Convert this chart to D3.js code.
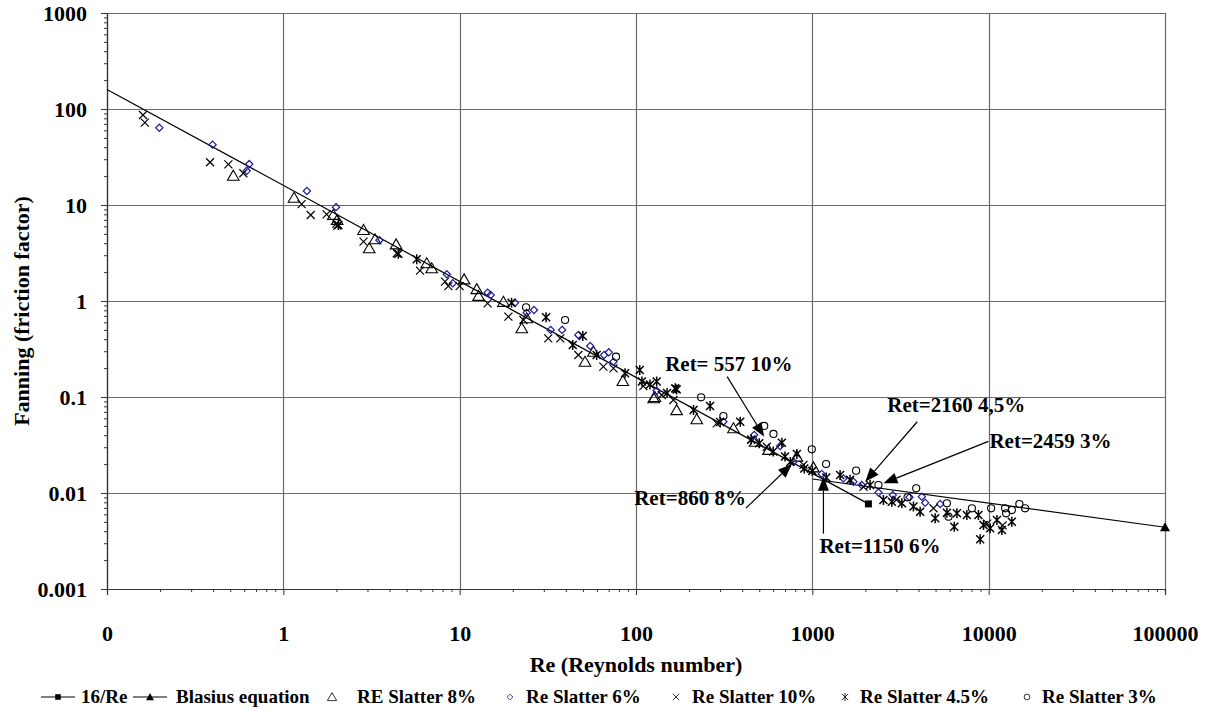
<!DOCTYPE html>
<html lang="en">
<head>
<meta charset="UTF-8">
<title>Fanning friction factor vs Reynolds number</title>
<script src="https://d3js.org/d3.v7.min.js"></script>
<style>
  body, html {
    margin: 0;
    background: #fff;
  }
  svg text {
    font-family: "Liberation Serif", "Times New Roman", serif;
    font-weight: bold;
    fill: #000;
  }
</style>
</head>
<body>
<svg id="chart" width="1214" height="712"></svg>
<script>
// ---- data ----
const xTickValues = [0.1, 1, 10, 100, 1000, 10000, 100000];
const xTickLabels = ["0", "1", "10", "100", "1000", "10000", "100000"];
const yTickValues = [0.001, 0.01, 0.1, 1, 10, 100, 1000];
const yTickLabels = ["0.001", "0.01", "0.1", "1", "10", "100", "1000"];

// 16/Re line (Re, f)
const laminarRe = [0.1, 2080];
const laminarF = [160, 0.0077];
// Blasius equation line
const blasiusRe = [1000, 100000];
const blasiusF = [0.0140, 0.0044];

// RE Slatter 8%  [Re, f]
const slatter8 = [[0.52,20.2],[1.15,11.9],[1.92,7.9],[2.02,7.0],[2.85,5.5],[3.07,3.54],[3.31,4.4],[4.36,3.89],
  [6.5,2.47],[6.94,2.19],[10.6,1.68],[12.5,1.33],[12.8,1.13],[17.7,0.98],[22.5,0.52],[24,0.66],[51.4,0.233],
  [57.4,0.296],[84.2,0.147],[126,0.097],[128,0.1],[170,0.073],[221,0.0586],[357,0.0472],[474,0.0342],
  [564,0.0281],[817,0.0239],[1014,0.0185]];
// Re Slatter 6%
const slatter6 = [[0.198,63.8],[0.397,42.5],[0.62,22.7],[0.641,26.7],[1.36,14.0],[1.99,9.5],[3.51,4.3],
  [8.45,1.9],[9.14,1.53],[14.4,1.22],[15.0,1.155],[20.6,0.96],[24,0.755],[26.4,0.806],[32.8,0.5],[38.1,0.5],
  [47.1,0.443],[55,0.34],[65.9,0.274],[70.1,0.292],[74.5,0.233],[131,0.116],[313,0.0553],[468,0.0402],
  [657,0.0309],[782,0.0212],[1131,0.0158],[1500,0.0142],[1710,0.0131],[1908,0.0121],[2371,0.0101],
  [2860,0.00953],[3555,0.00902],[4178,0.00916],[4365,0.00792],[5310,0.00768]];
// Re Slatter 10%
const slatter10 = [[0.16,86.6],[0.164,72],[0.384,27.9],[0.488,26.5],[0.593,21.4],[1.27,10.2],[1.43,7.87],
  [1.76,8.0],[2.0,6.4],[2.02,6.1],[2.85,4.15],[4.4,3.14],[5.96,2.07],[8.26,1.59],[8.63,1.43],[10.0,1.43],
  [14.4,0.946],[18.9,0.687],[23,0.634],[31.8,0.408],[37.2,0.408],[47.1,0.274],[65.3,0.207],[74.5,0.199],
  [110,0.13],[140,0.105],[163,0.093],[287,0.0532],[552,0.0303],[891,0.0196],[1950,0.0116],[3000,0.0085],
  [4865,0.00693],[9800,0.0048],[12000,0.0046]];
// Re Slatter 4.5%
const slatter45 = [[2.05,6.2],[4.49,3.1],[5.71,2.72],[19.7,0.96],[30.9,0.676],[43.8,0.348],[49.9,0.432],
  [59.8,0.274],[86.7,0.177],[105,0.191],[108,0.145],[120,0.135],[131,0.145],[150,0.11],[167,0.123],[170,0.12],
  [212,0.0733],[263,0.0806],[300,0.055],[390,0.0553],[450,0.036],[500,0.033],[600,0.027],[672,0.0334],
  [700,0.024],[750,0.021],[817,0.0255],[900,0.018],[1000,0.017],[1200,0.0145],[1437,0.0154],[1637,0.0137],
  [2125,0.0121],[2530,0.00845],[2824,0.0081],[3218,0.00781],[3745,0.00722],[4085,0.00638],[4975,0.00545],
  [5795,0.00623],[6380,0.00446],[6607,0.00614],[7520,0.0059],[8750,0.0059],[8950,0.0033],[9350,0.00464],
  [10200,0.00429],[11140,0.00524],[11890,0.00412],[13530,0.00502]];
// Re Slatter 3%
const slatter3 = [[23.8,0.86],[39.6,0.634],[77,0.263],[234,0.0993],[313,0.0634],[533,0.0499],[602,0.0412],
  [993,0.0285],[1197,0.020],[1771,0.0171],[2371,0.0121],[3468,0.00902],[3882,0.0112],[5795,0.00781],
  [5920,0.00566],[8033,0.00693],[10330,0.00693],[12400,0.00693],[12560,0.00614],[13530,0.00665],
  [14930,0.00768],[16090,0.00693]];

// annotation labels and the (Re, f) point each arrow points at
const annotLabels = ["Ret= 557 10%", "Ret=860 8%", "Ret=1150 6%", "Ret=2160 4,5%", "Ret=2459 3%"];
const annotRe = [533, 766, 1156, 1995, 2530];
const annotF = [0.0386, 0.020, 0.0148, 0.0131, 0.0126];

const legendLabels = ["16/Re", "Blasius equation", "RE Slatter 8%", "Re Slatter 6%",
  "Re Slatter 10%", "Re Slatter 4.5%", "Re Slatter 3%"];

// ---- layout ----
const svg = d3.select("#chart");
const plot = { left: 107, right: 1165, top: 13, bottom: 589 };

const x = d3.scaleLog().domain([0.1, 100000]).range([plot.left, plot.right]);
const y = d3.scaleLog().domain([0.001, 1000]).range([plot.bottom, plot.top]);

// minor tick values (2..9 within each decade)
const minor = (lo, hi) => {
  const out = [];
  for (let e = Math.log10(lo); e < Math.log10(hi); e++)
    for (let k = 2; k <= 9; k++) out.push(k * Math.pow(10, e));
  return out;
};

// gridlines
const grid = svg.append("g").attr("stroke", "#6a6a6a").attr("stroke-width", 1.2);
grid.selectAll(".gx").data(xTickValues.slice(1)).join("line")
  .attr("x1", d => Math.round(x(d)) + 0.5).attr("x2", d => Math.round(x(d)) + 0.5)
  .attr("y1", plot.top).attr("y2", plot.bottom);
grid.selectAll(".gy").data(yTickValues.slice(1)).join("line")
  .attr("y1", d => Math.round(y(d)) + 0.5).attr("y2", d => Math.round(y(d)) + 0.5)
  .attr("x1", plot.left).attr("x2", plot.right);

// axes
const xAxis = svg.append("g").attr("transform", `translate(0,${plot.bottom})`)
  .call(d3.axisBottom(x).tickValues(xTickValues).tickFormat((d, i) => xTickLabels[i]).tickSizeOuter(0).tickSize(6).tickPadding(30));
const xMinor = svg.append("g").attr("transform", `translate(0,${plot.bottom})`)
  .call(d3.axisBottom(x).tickValues(minor(0.1, 100000)).tickFormat("").tickSizeOuter(0).tickSize(3));
const yAxis = svg.append("g").attr("transform", `translate(${plot.left},0)`)
  .call(d3.axisLeft(y).tickValues(yTickValues).tickFormat((d, i) => yTickLabels[i]).tickSizeOuter(0).tickSize(6).tickPadding(14));
const yMinor = svg.append("g").attr("transform", `translate(${plot.left},0)`)
  .call(d3.axisLeft(y).tickValues(minor(0.001, 1000)).tickFormat("").tickSizeOuter(0).tickSize(3));

[xAxis, xMinor, yAxis, yMinor].forEach(g => {
  g.select(".domain").attr("stroke", "#333").attr("stroke-width", 1.2);
  g.selectAll(".tick line").attr("stroke", "#333");
  g.selectAll("text").style("font-family", null).attr("font-size", 22).attr("fill", "#000");
});

// axis titles
svg.append("text").attr("x", 636).attr("y", 672).attr("text-anchor", "middle")
  .attr("font-size", 22).text("Re (Reynolds number)");
svg.append("text").attr("transform", "translate(29,311) rotate(-90)").attr("text-anchor", "middle")
  .attr("font-size", 22).text("Fanning (friction factor)");

// symbols
const symbolPath = {
  tri: "M0,-5.5L5.8,4.5L-5.8,4.5Z",
  diamond: "M0,-3.6L3.6,0L0,3.6L-3.6,0Z",
  cross: "M-4,-4L4,4M-4,4L4,-4",
  star: "M-4,-4L4,4M-4,4L4,-4M0,-5L0,5",
  circle: d3.symbol(d3.symbolCircle, 40)(),
  square: "M-3.5,-3.5H3.5V3.5H-3.5Z",
  filledTri: "M0,-5L5,4L-5,4Z"
};
const seriesStyle = [
  { data: slatter8, sym: "tri", stroke: "#000", width: 1.1 },
  { data: slatter6, sym: "diamond", stroke: "#1a1a9c", width: 1.2 },
  { data: slatter10, sym: "cross", stroke: "#000", width: 1.2 },
  { data: slatter45, sym: "star", stroke: "#000", width: 1.5 },
  { data: slatter3, sym: "circle", stroke: "#000", width: 1.1 }
];

// lines
const lineGen = d3.line().x(d => x(d[0])).y(d => y(d[1]));
const laminar = laminarRe.map((r, i) => [r, laminarF[i]]);
const blasius = blasiusRe.map((r, i) => [r, blasiusF[i]]);
svg.append("path").attr("d", lineGen(laminar)).attr("fill", "none").attr("stroke", "#000").attr("stroke-width", 1.2);
svg.append("path").attr("d", lineGen(blasius)).attr("fill", "none").attr("stroke", "#000").attr("stroke-width", 1.2);

// scatter series
seriesStyle.forEach(s => {
  svg.append("g").selectAll("path").data(s.data).join("path")
    .attr("transform", d => `translate(${x(d[0])},${y(d[1])})`)
    .attr("d", symbolPath[s.sym])
    .attr("fill", "none").attr("stroke", s.stroke).attr("stroke-width", s.width);
});

// end markers of the two lines
svg.append("path").attr("d", symbolPath.square)
  .attr("transform", `translate(${x(laminar[1][0])},${y(laminar[1][1])})`).attr("fill", "#000");
svg.append("path").attr("d", symbolPath.filledTri)
  .attr("transform", `translate(${x(blasius[1][0])},${y(blasius[1][1])})`).attr("fill", "#000");

// annotations: arrow tail and label offset in px relative to the tip
const annotLayout = [
  { tail: [-37, -60], text: [-99, -66], anchor: "start" },
  { tail: [-46, 44], text: [-46, 41], anchor: "end" },
  { tail: [0, 57], text: [-4, 76], anchor: "start" },
  { tail: [52, -60], text: [22, -70], anchor: "start" },
  { tail: [105, -42], text: [106, -35], anchor: "start" }
];
annotLabels.forEach((label, i) => {
  const tx = x(annotRe[i]), ty = y(annotF[i]);
  const L = annotLayout[i];
  const sx = tx + L.tail[0], sy = ty + L.tail[1];
  const ang = Math.atan2(ty - sy, tx - sx);
  const len = 14, hw = 5.5;
  const bx = tx - len * Math.cos(ang), by = ty - len * Math.sin(ang);
  svg.append("line").attr("x1", sx).attr("y1", sy).attr("x2", bx).attr("y2", by)
    .attr("stroke", "#000").attr("stroke-width", 1.2);
  svg.append("path")
    .attr("d", `M${tx},${ty}L${bx + hw * Math.sin(ang)},${by - hw * Math.cos(ang)}L${bx - hw * Math.sin(ang)},${by + hw * Math.cos(ang)}Z`)
    .attr("fill", "#000");
  svg.append("text").attr("x", tx + L.text[0]).attr("y", ty + L.text[1])
    .attr("text-anchor", L.anchor).attr("font-size", 21).text(label);
});

// legend
const legendY = 697;
const legendSym = [
  { kind: "line", sym: "square", x: 58, tx: 81 },
  { kind: "line", sym: "filledTri", x: 150, tx: 176 },
  { kind: "pt", sym: "tri", x: 332, tx: 357, stroke: "#000" },
  { kind: "pt", sym: "diamond", x: 510, tx: 526, stroke: "#1a1a9c" },
  { kind: "pt", sym: "cross", x: 676, tx: 692, stroke: "#000" },
  { kind: "pt", sym: "star", x: 845, tx: 860, stroke: "#000" },
  { kind: "pt", sym: "circle", x: 1027, tx: 1042, stroke: "#000" }
];
const leg = svg.append("g");
legendSym.forEach((s, i) => {
  if (s.kind === "line") {
    leg.append("line").attr("x1", s.x - 17).attr("x2", s.x + 17).attr("y1", legendY).attr("y2", legendY)
      .attr("stroke", "#000").attr("stroke-width", 1.2);
    leg.append("path").attr("d", symbolPath[s.sym]).attr("transform", `translate(${s.x},${legendY}) scale(0.8)`)
      .attr("fill", "#000");
  } else {
    leg.append("path").attr("d", symbolPath[s.sym]).attr("transform", `translate(${s.x},${legendY}) scale(0.8)`)
      .attr("fill", "none").attr("stroke", s.stroke).attr("stroke-width", 1);
  }
  leg.append("text").attr("x", s.tx).attr("y", legendY + 6).attr("font-size", 19).text(legendLabels[i]);
});
</script>
</body>
</html>
